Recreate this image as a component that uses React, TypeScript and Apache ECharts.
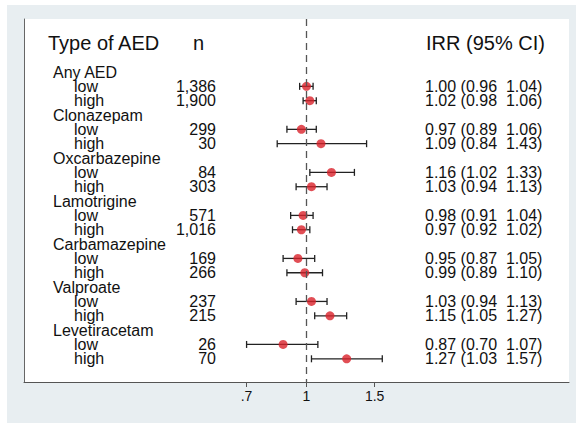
import React, { useEffect, useRef } from "react";
import * as echarts from "echarts";

const groups = ["Any AED", "Clonazepam", "Oxcarbazepine", "Lamotrigine", "Carbamazepine", "Valproate", "Levetiracetam"];
const levels = ["low", "high"];
const nValues = [1386, 1900, 299, 30, 84, 303, 571, 1016, 169, 266, 237, 215, 26, 70];
const irr = [1.0, 1.02, 0.97, 1.09, 1.16, 1.03, 0.98, 0.97, 0.95, 0.99, 1.03, 1.15, 0.87, 1.27];
const ciLow = [0.96, 0.98, 0.89, 0.84, 1.02, 0.94, 0.91, 0.92, 0.87, 0.89, 0.94, 1.05, 0.7, 1.03];
const ciHigh = [1.04, 1.06, 1.06, 1.43, 1.33, 1.13, 1.04, 1.02, 1.05, 1.1, 1.13, 1.27, 1.07, 1.57];
const tickValues = [0.7, 1, 1.5];
const tickLabels = [".7", "1", "1.5"];
const headers = ["Type of AED", "n", "IRR (95% CI)"];

const FONT = "'Liberation Sans', Arial, Helvetica, sans-serif";

export default function App() {
  const ref = useRef<HTMLDivElement>(null);
  useEffect(() => {
    if (!ref.current) return;
    const chart = echarts.init(ref.current, undefined, { renderer: "svg" });

    const estRows: number[] = [];
    groups.forEach((g, gi) => {
      levels.forEach((l, li) => estRows.push(gi * 3 + 1 + li));
    });

    type T = { row: number; x: number; text: string; size: number; align: string };
    const texts: T[] = [];
    texts.push({ row: -2, x: 48, text: headers[0], size: 20, align: "left" });
    texts.push({ row: -2, x: 193, text: headers[1], size: 20, align: "left" });
    texts.push({ row: -2, x: 426, text: headers[2], size: 20, align: "left" });
    groups.forEach((g, gi) => {
      texts.push({ row: gi * 3, x: 53, text: g, size: 16, align: "left" });
      levels.forEach((l, li) => {
        const i = gi * 2 + li;
        const r = gi * 3 + 1 + li;
        texts.push({ row: r, x: 74, text: l, size: 16, align: "left" });
        texts.push({ row: r, x: 216, text: nValues[i].toLocaleString("en-US"), size: 16, align: "right" });
        texts.push({
          row: r,
          x: 425,
          text: `${irr[i].toFixed(2)} (${ciLow[i].toFixed(2)}\u00a0\u00a0${ciHigh[i].toFixed(2)})`,
          size: 16,
          align: "left",
        });
      });
    });

    const lnTicks = tickValues.map((t) => Math.log(t));

    const option: any = {
      animation: false,
      backgroundColor: "#ffffff",
      graphic: [
        {
          type: "rect",
          z: -10,
          silent: true,
          shape: { x: 7, y: 5, width: 569, height: 418 },
          style: { fill: "#e8eef1" },
        },
      ],
      grid: {
        left: 24,
        right: 7,
        top: 19,
        bottom: 41,
        show: true,
        backgroundColor: "#ffffff",
        borderWidth: 0,
      },
      xAxis: {
        type: "value",
        min: (24 - 306.5) / 168,
        max: (569 - 306.5) / 168,
        splitLine: { show: false },
        axisLine: { show: true, onZero: false, lineStyle: { color: "#555", width: 1 } },
        axisTick: { show: true, customValues: lnTicks, length: 5, lineStyle: { color: "#555" } },
        axisLabel: {
          customValues: lnTicks,
          margin: 7,
          color: "#111",
          fontSize: 14,
          fontFamily: FONT,
          formatter: (v: number) => {
            const idx = lnTicks.findIndex((t) => Math.abs(t - v) < 1e-6);
            return idx >= 0 ? tickLabels[idx] : "";
          },
        },
      },
      yAxis: {
        type: "value",
        inverse: true,
        min: (19 - 72) / 14.34,
        max: (382 - 72) / 14.34,
        splitLine: { show: false },
        axisLine: { show: true, onZero: false, lineStyle: { color: "#666", width: 1 } },
        axisTick: { show: false },
        axisLabel: { show: false },
      },
      series: [
        {
          type: "custom",
          name: "ci",
          data: estRows.map((r, i) => [Math.log(ciLow[i]), Math.log(ciHigh[i]), r]),
          renderItem: (params: any, api: any) => {
            const r = api.value(2);
            const p1 = api.coord([api.value(0), r]);
            const p2 = api.coord([api.value(1), r]);
            const h = 3.5;
            const ls = { stroke: "#222", lineWidth: 1.3 };
            return {
              type: "group",
              children: [
                { type: "line", shape: { x1: p1[0], y1: p1[1], x2: p2[0], y2: p2[1] }, style: ls },
                { type: "line", shape: { x1: p1[0], y1: p1[1] - h, x2: p1[0], y2: p1[1] + h }, style: ls },
                { type: "line", shape: { x1: p2[0], y1: p2[1] - h, x2: p2[0], y2: p2[1] + h }, style: ls },
              ],
            };
          },
          z: 2,
        },
        {
          type: "scatter",
          name: "irr",
          data: estRows.map((r, i) => [Math.log(irr[i]), r]),
          symbol: "circle",
          symbolSize: 9,
          itemStyle: { color: "#d9222a" },
          z: 3,
          markLine: {
            silent: true,
            symbol: "none",
            label: { show: false },
            lineStyle: { color: "#555", type: [7, 5], width: 1.3 },
            data: [{ xAxis: 0 }],
          },
        },
        {
          type: "custom",
          name: "texts",
          data: texts.map((t) => [0, t.row]),
          renderItem: (params: any, api: any) => {
            const t = texts[params.dataIndex];
            const p = api.coord([0, t.row]);
            return {
              type: "text",
              style: {
                x: t.x,
                y: p[1],
                text: t.text,
                fill: "#111",
                font: `${t.size}px ${FONT}`,
                lineHeight: t.size > 16 ? 22 : 13,
                align: t.align,
                verticalAlign: "middle",
              },
            };
          },
          z: 4,
        },
      ],
    };
    chart.setOption(option);
    return () => chart.dispose();
  }, []);
  return <div ref={ref} style={{ position: "absolute", left: 0, top: 0, width: 576, height: 423 }} />;
}
